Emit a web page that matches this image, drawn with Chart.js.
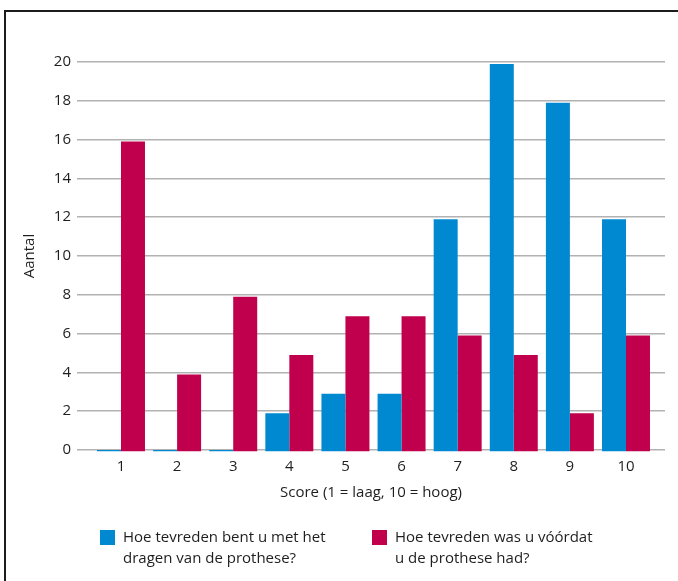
<!DOCTYPE html>
<html>
<head>
<meta charset="utf-8">
<script src="https://cdn.jsdelivr.net/npm/chart.js@4"></script>
<style>
  html, body { margin: 0; padding: 0; background: #fff; }
  body { width: 678px; height: 581px; position: relative; overflow: hidden;
         font-family: "Open Sans", sans-serif; color: #1e1e1e; }
  #frame { position: absolute; left: 4px; top: 10px; right: 0; bottom: 0;
           border-top: 2px solid #1c1c1c; border-left: 2px solid #1c1c1c; }
  #wrap { position: absolute; left: 0; top: 0; width: 678px; height: 581px; }
  .legend-item { position: absolute; top: 528px; font-size: 15px; line-height: 21px; }
  .legend-item .swatch { position: absolute; left: 0; top: 2px; width: 15px; height: 15px; }
  .legend-item .text { position: absolute; left: 23px; top: -2px; white-space: nowrap; }
</style>
</head>
<body>
<div id="frame"></div>
<div id="wrap"><canvas id="chart" width="678" height="581"></canvas></div>
<div id="legend"></div>
<script>
// Scores on the x axis
const categories = ['1', '2', '3', '4', '5', '6', '7', '8', '9', '10'];
// Satisfaction after getting the prosthesis
const afterValues = [0, 0, 0, 2, 3, 3, 12, 20, 18, 12];
// Satisfaction before the prosthesis
const beforeValues = [16, 4, 8, 5, 7, 7, 6, 5, 2, 6];
const yTicks = [0, 2, 4, 6, 8, 10, 12, 14, 16, 18, 20];
const seriesLabels = [
  ['Hoe tevreden bent u met het', 'dragen van de prothese?'],
  ['Hoe tevreden was u vóórdat', 'u de prothese had?']
];
const seriesColors = ['#0089d0', '#c0004c'];

const toPoints = vals => vals.map((v, i) => ({ x: i + 1, y: v }));

// Bars sit a hair below the baseline
const shiftBars = {
  id: 'shiftBars',
  beforeDatasetsDraw(chart) { chart.ctx.save(); chart.ctx.translate(0, 2); },
  afterDatasetsDraw(chart) { chart.ctx.restore(); }
};

const font = { family: '"Open Sans", sans-serif', size: 15 };

new Chart(document.getElementById('chart'), {
  type: 'bar',
  data: {
    datasets: [
      { label: seriesLabels[0].join(' '), data: toPoints(afterValues), backgroundColor: seriesColors[0] },
      { label: seriesLabels[1].join(' '), data: toPoints(beforeValues), backgroundColor: seriesColors[1] }
    ]
  },
  plugins: [shiftBars],
  options: {
    responsive: false,
    animation: false,
    events: [],
    datasets: { bar: { categoryPercentage: 0.855, barPercentage: 1, minBarLength: 2, clip: false } },
    layout: { padding: { top: 62, right: 13, left: 0, bottom: 76 } },
    plugins: { legend: { display: false }, tooltip: { enabled: false } },
    scales: {
      x: {
        type: 'linear',
        offset: false,
        min: 0.216,
        max: 10.695,
        grid: { display: false, drawTicks: false },
        border: { display: false },
        afterBuildTicks(scale) { scale.ticks = categories.map((c, i) => ({ value: i + 1 })); },
        ticks: {
          padding: 8, color: '#1e1e1e', font,
          callback: v => categories[v - 1]
        },
        title: { display: true, text: 'Score (1 = laag, 10 = hoog)', color: '#1e1e1e', font,
                 padding: { top: 0, bottom: 3 } },
        afterFit(scale) { scale.height = 55; }
      },
      y: {
        min: 0,
        max: 20,
        afterBuildTicks(scale) { scale.ticks = yTicks.map(v => ({ value: v })); },
        grid: { color: '#b2b2b2', lineWidth: 1.5, drawTicks: false },
        border: { display: false },
        ticks: { padding: 6, color: '#1e1e1e', font },
        title: { display: true, text: 'Aantal', color: '#1e1e1e', font,
                 padding: { top: 21, bottom: 0 } },
        afterFit(scale) { scale.width = 77; }
      }
    }
  }
});

// Two-line legend below the chart
const legendEl = document.getElementById('legend');
const legendX = [100, 372];
seriesLabels.forEach((lines, i) => {
  const item = document.createElement('div');
  item.className = 'legend-item';
  item.style.left = legendX[i] + 'px';
  const sw = document.createElement('div');
  sw.className = 'swatch';
  sw.style.background = seriesColors[i];
  const txt = document.createElement('div');
  txt.className = 'text';
  txt.innerHTML = lines.join('<br>');
  item.appendChild(sw);
  item.appendChild(txt);
  legendEl.appendChild(item);
});
</script>
</body>
</html>
